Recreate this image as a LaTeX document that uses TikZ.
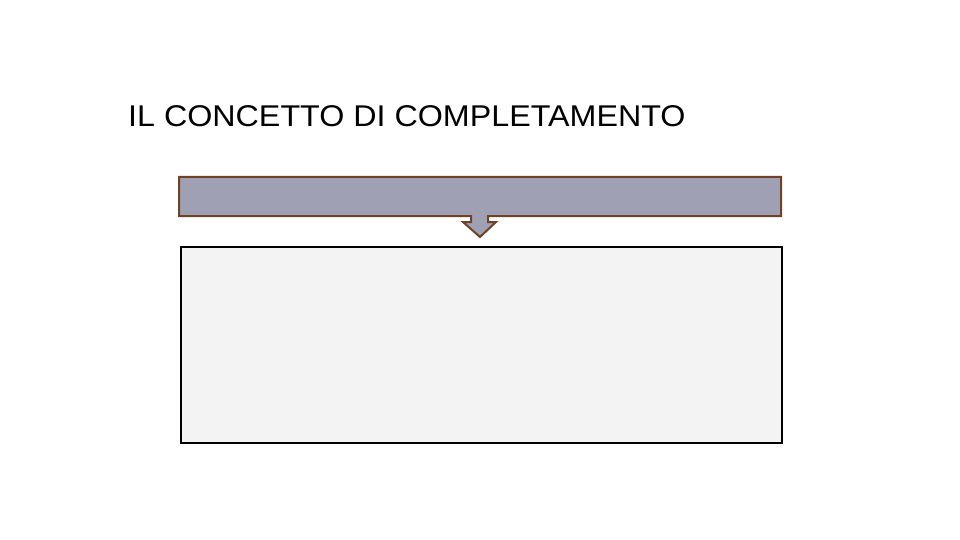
\documentclass[tikz,border=0pt]{standalone}
\usepackage{fontspec}
\setmainfont{Liberation Sans}
\usepackage{tkz-euclide}

\definecolor{barfill}{RGB}{160,160,180}
\definecolor{barline}{RGB}{110,66,36}
\definecolor{boxfill}{RGB}{243,243,243}

\begin{document}
\begin{tikzpicture}[x=1pt,y=-1pt]
	\useasboundingbox[fill=white] (0,0) rectangle (960,540);

	\tkzDefPoint(179,177){b1}
	\tkzDefPoint(781,177){b2}
	\tkzDefPoint(781,216){b3}
	\tkzDefPoint(488,216){a1}
	\tkzDefPoint(488,222){a2}
	\tkzDefPoint(496,222){a3}
	\tkzDefPoint(480,237){a4}
	\tkzDefPoint(463,222){a5}
	\tkzDefPoint(471,222){a6}
	\tkzDefPoint(471,216){a7}
	\tkzDefPoint(179,216){b4}

	\node[anchor=base west,inner sep=0pt,font=\fontsize{30}{36}\selectfont,xscale=1.075,transform shape] (title) at (128,127) {IL CONCETTO DI COMPLETAMENTO};

	\path[draw=barline,line width=2pt,fill=barfill,line join=miter]
		(b1) -- (b2) -- (b3) -- (a1) -- (a2) -- (a3) -- (a4) -- (a5) -- (a6) -- (a7) -- (b4) -- cycle;

	\node[draw=black,line width=2.4pt,fill=boxfill,anchor=north west,inner sep=0pt,
		minimum width=601pt,minimum height=196pt] (content) at (180,246) {};
\end{tikzpicture}
\end{document}
